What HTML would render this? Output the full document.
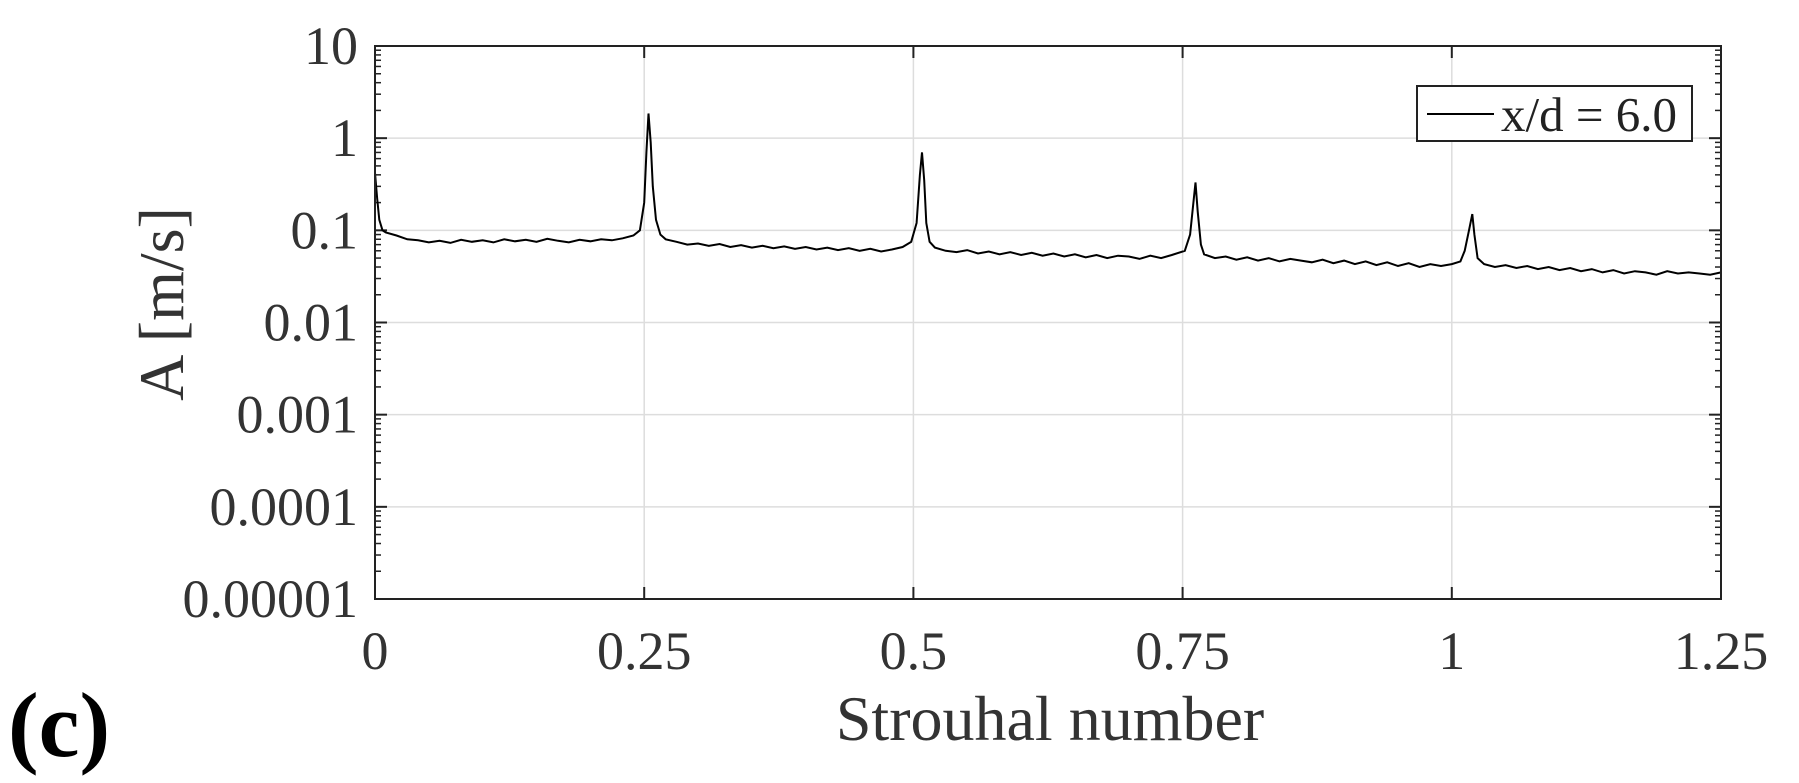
<!DOCTYPE html>
<html><head><meta charset="utf-8">
<style>
html,body{margin:0;padding:0;background:#fff;}
svg{display:block;font-family:"Liberation Serif",serif;}
</style></head>
<body>
<svg id="chart" width="1799" height="783" viewBox="0 0 1799 783">
  <g id="grid"></g>
  <g id="ticks"></g>
  <g id="series"></g>
  <rect x="375" y="46" width="1346" height="553" fill="none" stroke="#222" stroke-width="2"/>
  <g id="labels"></g>
  <text x="1050" y="740" font-size="64" text-anchor="middle" fill="#333">Strouhal number</text>
  <text transform="translate(183,304) rotate(-90)" font-size="64" text-anchor="middle" fill="#333">A [m/s]</text>
  <text x="8" y="756" font-size="92" font-weight="bold" fill="#000">(c)</text>
  <g>
    <rect x="1417" y="86" width="275" height="55" fill="#fff" stroke="#222" stroke-width="2"/>
    <line x1="1427" y1="114" x2="1494" y2="114" stroke="#000" stroke-width="2"/>
    <text x="1501" y="131" font-size="49" fill="#222">x/d = 6.0</text>
  </g>
</svg>
<script>
const xTicks = [0, 0.25, 0.5, 0.75, 1, 1.25];
const xTickLabels = ["0", "0.25", "0.5", "0.75", "1", "1.25"];
const yTicks = [1e-5, 1e-4, 1e-3, 1e-2, 1e-1, 1, 10];
const yTickLabels = ["0.00001", "0.0001", "0.001", "0.01", "0.1", "1", "10"];
const strouhal = [
0,0.002,0.004,0.007,
0.01,0.02,0.03,0.04,0.05,0.06,0.07,0.08,0.09,0.10,0.11,0.12,0.13,0.14,0.15,0.16,0.17,0.18,0.19,0.20,0.21,0.22,0.23,0.24,
0.246,0.25,0.252,0.254,0.256,0.258,0.261,0.265,
0.27,0.28,0.29,0.30,0.31,0.32,0.33,0.34,0.35,0.36,0.37,0.38,0.39,0.40,0.41,0.42,0.43,0.44,0.45,0.46,0.47,0.48,0.49,
0.498,0.503,0.506,0.508,0.51,0.512,0.515,
0.52,0.53,0.54,0.55,0.56,0.57,0.58,0.59,0.60,0.61,0.62,0.63,0.64,0.65,0.66,0.67,0.68,0.69,0.70,0.71,0.72,0.73,0.74,
0.752,0.757,0.76,0.762,0.764,0.767,0.77,
0.78,0.79,0.80,0.81,0.82,0.83,0.84,0.85,0.86,0.87,0.88,0.89,0.90,0.91,0.92,0.93,0.94,0.95,0.96,0.97,0.98,0.99,1.00,
1.008,1.012,1.016,1.019,1.021,1.024,1.03,
1.04,1.05,1.06,1.07,1.08,1.09,1.10,1.11,1.12,1.13,1.14,1.15,1.16,1.17,1.18,1.19,1.20,1.21,1.22,1.23,1.24,1.25];
const amplitude = [
0.42,0.22,0.13,0.1,
0.095,0.088,0.08,0.078,0.074,0.077,0.073,0.079,0.075,0.078,0.074,0.08,0.076,0.079,0.075,0.081,0.077,0.074,0.079,0.076,0.08,0.078,0.082,0.088,
0.1,0.2,0.7,1.85,0.9,0.3,0.13,0.09,
0.08,0.075,0.07,0.072,0.068,0.071,0.066,0.069,0.065,0.068,0.064,0.067,0.063,0.066,0.062,0.065,0.061,0.064,0.06,0.063,0.059,0.062,0.066,
0.075,0.12,0.4,0.7,0.35,0.12,0.075,
0.065,0.06,0.058,0.061,0.056,0.059,0.055,0.058,0.054,0.057,0.053,0.056,0.052,0.055,0.051,0.054,0.05,0.053,0.052,0.049,0.053,0.05,0.054,
0.06,0.09,0.2,0.33,0.16,0.07,0.055,
0.05,0.052,0.048,0.051,0.047,0.05,0.046,0.049,0.047,0.045,0.048,0.044,0.047,0.043,0.046,0.042,0.045,0.041,0.044,0.04,0.043,0.041,0.043,
0.046,0.06,0.1,0.15,0.09,0.05,0.043,
0.04,0.042,0.039,0.041,0.038,0.04,0.037,0.039,0.036,0.038,0.035,0.037,0.034,0.036,0.035,0.033,0.036,0.034,0.035,0.034,0.033,0.035];

const L=375,R=1721,T=46,B=599;
const xs = v => L + (v-0)/(1.25-0)*(R-L);
const ys = v => B - (Math.log10(v)+5)/6*(B-T);
const NS="http://www.w3.org/2000/svg";
function mk(tag, attrs, parent){const e=document.createElementNS(NS,tag);for(const k in attrs)e.setAttribute(k,attrs[k]);parent.appendChild(e);return e;}
const grid=document.getElementById('grid'), ticks=document.getElementById('ticks'), labels=document.getElementById('labels'), series=document.getElementById('series');

xTicks.forEach((t,i)=>{
  const x=xs(t);
  if(i>0&&i<xTicks.length-1){
    const g=mk('line',{x1:x,y1:T,x2:x,y2:B,stroke:'#ddd','stroke-width':1.5},grid);
    
    
  }
  const a=mk('line',{x1:x,y1:B,x2:x,y2:B-12,stroke:'#222','stroke-width':2},ticks);
  
  
  const b=mk('line',{x1:x,y1:T,x2:x,y2:T+12,stroke:'#222','stroke-width':2},ticks);
  
  
  const tx=mk('text',{x:x,y:669,'font-size':54,'text-anchor':'middle',fill:'#333'},labels);
  tx.textContent=xTickLabels[i];
  
  
});
yTicks.forEach((t,i)=>{
  const y=ys(t);
  if(i>0&&i<yTicks.length-1){
    const g=mk('line',{x1:L,y1:y,x2:R,y2:y,stroke:'#ddd','stroke-width':1.5},grid);
    
    
  }
  [[L,L+12],[R,R-12]].forEach(p=>{
    const m=mk('line',{x1:p[0],y1:y,x2:p[1],y2:y,stroke:'#222','stroke-width':2},ticks);
    
    
  });
  if(i<yTicks.length-1){
    for(let k=2;k<=9;k++){
      const yy=ys(t*k);
      [[L,L+6],[R,R-6]].forEach(p=>{
        const m=mk('line',{x1:p[0],y1:yy,x2:p[1],y2:yy,stroke:'#222','stroke-width':1.5},ticks);
        
        
      });
    }
  }
  const tx=mk('text',{x:358,y:y+18,'font-size':54,'text-anchor':'end',fill:'#333'},labels);
  tx.textContent=yTickLabels[i];
  
  
});
const pts=strouhal.map((s,i)=>xs(s).toFixed(1)+','+ys(amplitude[i]).toFixed(1)).join(' ');
const line=mk('polyline',{points:pts,fill:'none',stroke:'#000','stroke-width':2},series);


</script>
</body></html>
